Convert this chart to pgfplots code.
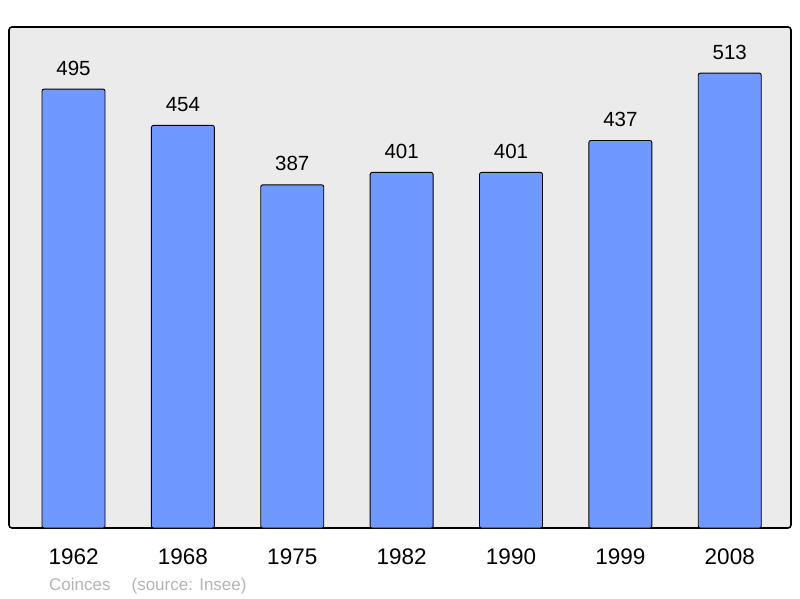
\documentclass[border=0pt]{standalone}
\usepackage{fontspec}
\setmainfont{Liberation Sans}
\usepackage{pgfplots}
\pgfplotsset{compat=1.18}
\definecolor{barblue}{HTML}{7099FF}
\definecolor{panel}{HTML}{EBEBEB}
\definecolor{srcgrey}{HTML}{B4B4B4}
\begin{document}
\begin{tikzpicture}[x=1pt,y=1pt]
\path (0,0) rectangle (800,598);
\begin{axis}[
    at={(9pt,70pt)}, anchor=south west,
    scale only axis,
    width=782pt, height=501pt,
    xmin=-0.59, xmax=6.56,
    ymin=0, ymax=565,
    ybar, bar width=63pt,
    axis background/.style={fill=panel, draw=black, line width=1.6pt, rounded corners=3pt},
    axis line style={draw=none},
    xtick=data,
    xticklabels={1962,1968,1975,1982,1990,1999,2008},
    xticklabel style={font=\fontsize{22.5}{22.5}\selectfont, yshift=-17pt},
    major tick length=0pt,
    ytick=\empty,
    /pgf/number format/assume math mode=true,
    nodes near coords,
    every node near coord/.append style={font=\fontsize{20.5}{20.5}\selectfont, black, yshift=10pt},
]
\addplot[fill=barblue, draw=black, line width=0.9pt, rounded corners=2pt] coordinates {
    (0,495) (1,454) (2,387) (3,401) (4,401) (5,437) (6,513)
};
\end{axis}
\node[anchor=west, text=srcgrey, font=\fontsize{17}{17}\selectfont, inner sep=0] at (49,12) {Coinces\hspace{21pt}(source: Insee)};
\end{tikzpicture}
\end{document}
